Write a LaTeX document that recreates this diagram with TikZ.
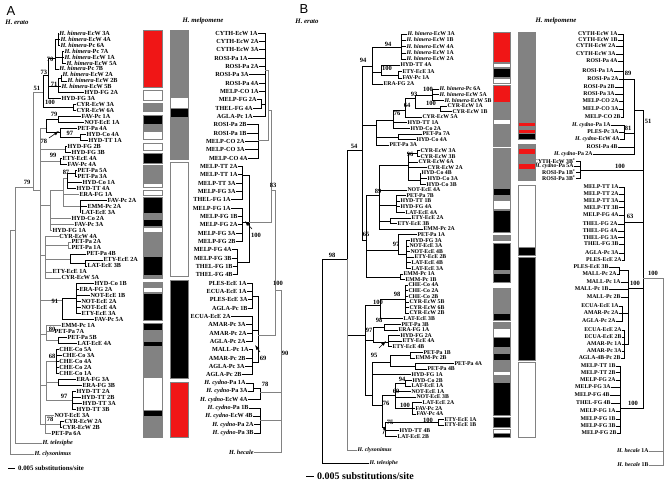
\documentclass[tikz,border=0pt]{standalone}
\usepackage{fontspec}
\setmainfont{Liberation Serif}
\newfontfamily\panelfont{Liberation Sans}
\usetikzlibrary{arrows.meta}
\definecolor{barred}{RGB}{240,22,22}
\definecolor{bargray}{RGB}{130,130,130}
\newcommand{\spn}[1]{\textit{#1}}
\tikzset{
  br/.style={line width=0.5pt},
  gbr/.style={br,draw=bargray},
  lfa/.style={anchor=west,inner sep=0.3pt,font=\fontsize{6.2}{6.5}\selectfont\bfseries},
  lfb/.style={anchor=west,inner sep=0.3pt,font=\fontsize{5.8}{6}\selectfont\bfseries},
  rfa/.style={lfa,anchor=east},
  rfb/.style={lfb,anchor=east},
  bs/.style={inner sep=0pt,font=\fontsize{6.5}{7}\selectfont\bfseries},
  hd/.style={inner sep=0pt,font=\fontsize{6.8}{7}\selectfont\bfseries\itshape},
  seg/.style={draw=bargray,line width=0.4pt},
  wedge/.style={-{Latex[length=5pt,width=3.5pt]},line width=0.6pt},
  paneltag/.style={inner sep=0pt,font=\panelfont\fontsize{13}{13}\selectfont},
}
\begin{document}
\begin{tikzpicture}[x=1pt,y=-1pt]
  \fill[white] (0,0) rectangle (665,482);
  \useasboundingbox (0,0) rectangle (665,482);

  \node[paneltag] (tagA) at (11,11) {A};
  \node[paneltag] (tagB) at (304,9) {B};
  \node[hd] (hAer) at (17,22) {H. erato};
  \node[hd] (hAme) at (203,21) {H. melpomene};
  \node[hd] (hBer) at (307,21) {H. erato};
  \node[hd] (hBme) at (556,21) {H. melpomene};

  % panel A, H. erato
  \foreach \x/\y/\t [count=\i] in {
    59/33/{\spn{H. himera}-EcW 3A}, 60/39/{\spn{H. himera}-EcW 4A}, 60/44.9/{\spn{H. himera}-Pc 6A},
    64/50.9/{\spn{H. himera}-Pc 7A}, 64/56.9/{\spn{H. himera}-EcW 1A}, 66/62.9/{\spn{H. himera}-EcW 5A},
    59/68.8/{\spn{H. himera}-Pc 7B}, 62/74.8/{\spn{H. himera}-EcW 2A}, 67/80.8/{\spn{H. himera}-EcW 2B},
    61/86.7/{\spn{H. himera}-EcW 5B}, 84/92.7/HYD-FG 2A, 61/98.7/HYD-FG 3A,
    76/104.6/CYR-EcW 3A, 76/110.6/CYR-EcW 6A, 81/116.6/FAV-Pc 1A, 84/122.6/NOT-EcE 1A,
    77/128.5/PET-Pa 4A, 86/134.5/HYD-Co 4A, 88/140.5/HYD-TT 1A, 67/146.4/HYD-FG 2B,
    71/152.4/HYD-FG 3B, 62/158.4/ETY-EcE 4A, 67/164.3/FAV-Pc 4A, 77/170.3/PET-Pa 5A,
    77/176.3/PET-Pa 3A, 82/182.3/HYD-Co 1A, 76/188.2/HYD-TT 4A, 79/194.2/ERA-FG 1A,
    107/200.2/FAV-Pc 2A, 87/206.1/EMM-Pc 2A, 81/212.1/LAT-EcE 3A, 71/218.1/HYD-Co 2A,
    74/224/FAV-Pc 3A, 52/230/HYD-FG 1A, 59/236/CYR-EcW 4A, 71/241.9/PET-Pa 2A,
    71/247.9/PET-Pa 1A, 86/253.9/PET-Pa 4B, 103/259.9/ETY-EcE 2A, 87/265.8/LAT-EcE 3B,
    52/271.8/ETY-EcE 1A, 61/277.8/CYR-EcW 5A, 94/283.7/HYD-Co 1B, 79/289.7/ERA-FG 2A,
    90/295.7/NOT-EcE 1B, 81/301.6/NOT-EcE 2A, 81/307.6/NOT-EcE 4A, 81/313.6/ETY-EcE 3A,
    94/319.5/FAV-Pc 5A, 61/325.5/EMM-Pc 1A, 54/331.5/PET-Pa 7A, 67/337.4/PET-Pa 5B,
    77/343.4/LAT-EcE 4A, 59/349.4/CHE-Co 5A, 62/355.4/CHE-Co 3A, 59/361.3/CHE-Co 4A,
    59/367.3/CHE-Co 2A, 59/373.3/CHE-Co 1A, 76/379.2/ERA-FG 3A, 82/385.2/ERA-FG 3B,
    76/391.2/HYD-TT 2A, 81/397.1/HYD-TT 2B, 82/403.1/HYD-TT 3A, 76/409.1/HYD-TT 3B,
    54/415/NOT-EcE 3A, 64/421/CYR-EcW 2A, 62/427/CYR-EcW 2B, 51/433/PET-Pa 6A}
    \node[lfa] (ae\i) at (\x,\y) {\t};
  \node[lfa] (ate) at (42,443) {\spn{H. telesiphe}};
  \node[lfa] (acl) at (34,454) {\spn{H. clysonimus}};

  \coordinate (aR) at (10,400);
  \coordinate (aN1) at (15,230);
  \coordinate (aIn) at (33,187);
  \coordinate (aTop) at (43,92);
  \coordinate (aHimC) at (48,75);
  \coordinate (aH70) at (55,58);
  \coordinate (aH1) at (58,39);
  \coordinate (aH2) at (62,57);
  \coordinate (aH71) at (58,86);
  \coordinate (aH3) at (61,78);
  \coordinate (aCYR) at (73,107);
  \coordinate (aBig) at (40,190);
  \coordinate (aB1) at (46,128);
  \coordinate (aB1a) at (58,119);
  \coordinate (aB1b) at (60,132);
  \coordinate (aB1c) at (80,137);
  \coordinate (aB2) at (65,149);
  \coordinate (aB3) at (60,161);
  \coordinate (aB4) at (50,205);
  \coordinate (aB4x) at (63,190);
  \coordinate (aB4a) at (67,178);
  \coordinate (aB4b) at (75,173);
  \coordinate (aB4c) at (80,206);
  \coordinate (aB5) at (45,255);
  \coordinate (aB5a) at (68,245);
  \coordinate (aB5b) at (70,259);
  \coordinate (aB5c) at (85,263);
  \coordinate (aB6) at (62,300);
  \coordinate (aB6a) at (76,298);
  \coordinate (aB7) at (46,334);
  \coordinate (aB7a) at (58,340);
  \coordinate (aB8) at (46,385);
  \coordinate (aB8a) at (56,361);
  \coordinate (aB8b) at (58,382);
  \coordinate (aB8c) at (72,400);
  \coordinate (aB9) at (45,424);
  \coordinate (aB9a) at (60,424);

  \foreach \c in {aN1,acl.west} \draw[gbr] (aR) |- (\c);
  \foreach \c in {ate.west,aIn} \draw[gbr] (aN1) |- (\c);
  \foreach \c in {aTop,aBig} \draw[gbr] (aIn) |- (\c);
  \foreach \c in {aHimC,aCYR} \draw[br] (aTop) |- (\c);
  \foreach \c in {aH70,aH71,ae12.west} \draw[br] (aHimC) |- (\c);
  \foreach \c in {aH1,aH2,ae7.west} \draw[br] (aH70) |- (\c);
  \foreach \n in {1,2,3} \draw[br] (aH1) |- (ae\n.west);
  \foreach \n in {4,5,6} \draw[br] (aH2) |- (ae\n.west);
  \foreach \c in {aH3,ae10.west,ae11.west} \draw[br] (aH71) |- (\c);
  \foreach \n in {8,9} \draw[br] (aH3) |- (ae\n.west);
  \foreach \n in {13,14} \draw[br] (aCYR) |- (ae\n.west);
  \foreach \c in {aB1,aB2,aB3,aB4,aB5,aB6,aB7,aB8,aB9} \draw[gbr] (aBig) |- (\c);
  \foreach \c in {aB1a,aB1b} \draw[br] (aB1) |- (\c);
  \foreach \n in {15,16} \draw[br] (aB1a) |- (ae\n.west);
  \foreach \c in {ae17.west,aB1c} \draw[br] (aB1b) |- (\c);
  \foreach \n in {18,19} \draw[br] (aB1c) |- (ae\n.west);
  \foreach \n in {20,21} \draw[br] (aB2) |- (ae\n.west);
  \foreach \n in {22,23} \draw[br] (aB3) |- (ae\n.west);
  \foreach \c in {aB4x,ae32.west,ae33.west,ae34.west} \draw[gbr] (aB4) |- (\c);
  \foreach \c in {aB4a,ae28.west,aB4c} \draw[gbr] (aB4x) |- (\c);
  \foreach \c in {aB4b,ae26.west,ae27.west} \draw[br] (aB4a) |- (\c);
  \foreach \n in {24,25} \draw[br] (aB4b) |- (ae\n.west);
  \foreach \n in {29,30,31} \draw[br] (aB4c) |- (ae\n.west);
  \foreach \c in {ae35.west,aB5a,aB5b,ae41.west,ae42.west} \draw[gbr] (aB5) |- (\c);
  \foreach \n in {36,37} \draw[gbr] (aB5a) |- (ae\n.west);
  \foreach \c in {ae38.west,aB5c} \draw[br] (aB5b) |- (\c);
  \foreach \n in {39,40} \draw[br] (aB5c) |- (ae\n.west);
  \foreach \c in {aB6a,ae49.west} \draw[br] (aB6) |- (\c);
  \foreach \n in {43,...,48} \draw[br] (aB6a) |- (ae\n.west);
  \foreach \c in {ae50.west,ae51.west,aB7a} \draw[gbr] (aB7) |- (\c);
  \foreach \n in {52,53} \draw[br] (aB7a) |- (ae\n.west);
  \foreach \c in {aB8a,aB8b,aB8c} \draw[gbr] (aB8) |- (\c);
  \foreach \n in {54,...,58} \draw[br] (aB8a) |- (ae\n.west);
  \foreach \n in {59,60} \draw[br] (aB8b) |- (ae\n.west);
  \foreach \n in {61,...,64} \draw[br] (aB8c) |- (ae\n.west);
  \foreach \c in {ae65.west,aB9a,ae68.west} \draw[gbr] (aB9) |- (\c);
  \foreach \n in {66,67} \draw[br] (aB9a) |- (ae\n.west);

  \foreach \x/\y/\t [count=\i] in {27/182/79, 37/88/51, 44/72/73, 50/59/70, 54/84/71, 50/102/100,
    54/114/79, 70/133/97, 44/141/78, 53/155/99, 66/172/87, 55/301/91, 52/329/80, 52/356/68,
    64/396/97, 50/419/78}
    \node[bs] (bsa\i) at (\x,\y) {\t};
  \draw[wedge] (49,138) -- (59,131);

  % panel A, H. melpomene
  \foreach \x/\y/\t [count=\i] in {
    258/33/CYTH-EcW 1A, 259/41.3/CYTH-EcW 2A, 259/49.7/CYTH-EcW 3A, 248/58/ROSI-Pa 1A,
    259/66.3/ROSI-Pa 2A, 249/74.7/ROSI-Pa 3A, 259/83/ROSI-Pa 4A, 259/91.3/MELP-CO 1A,
    257/99.7/MELP-FG 2A, 253/108/THEL-FG 4A, 253/116.3/AGLA-Pc 1A, 247/124.7/ROSI-Pa 2B,
    247/133/ROSI-Pa 1B, 245/141.3/MELP-CO 2A, 245/149.7/MELP-CO 3A, 248/158/MELP-CO 4A,
    238/166.3/MELP-TT 2A, 238/174.7/MELP-TT 1A, 236/183/MELP-TT 3A, 236/191.3/MELP-FG 3A,
    231/199.7/THEL-FG 1A, 231/208/MELP-FG 1A, 238/216.3/MELP-FG 1B, 238/224.7/MELP-FG 2A,
    236/233/MELP-FG 3A, 236/241.3/MELP-FG 2B, 232/249.7/MELP-FG 4A, 232/258/MELP-FG 3B,
    233/266.3/THEL-FG 1B, 233/274.7/THEL-FG 4B, 247/283/PLES-EcE 1A, 247/291.3/ECUA-EcE 1A,
    248/299.7/PLES-EcE 3A, 248/308/AGLA-Pc 1B, 231/316.3/ECUA-EcE 2A, 246/324.7/AMAR-Pc 3A,
    247/333/AMAR-Pc 2A, 246/341.3/AGLA-Pc 2A, 249/349.7/MALL-Pc 1A, 246/358/AMAR-Pc 2B,
    245/366.3/AGLA-Pc 3A, 242/374.7/AGLA-Pc 2B, 246/383/{\spn{H. cydno}-Pa 1A},
    248/391.3/{\spn{H. cydno}-Pa 3A}, 248/399.7/{\spn{H. cydno}-EcW 4A}, 249/408/{\spn{H. cydno}-Pa 1B},
    253/416.3/{\spn{H. cydno}-EcW 4B}, 254/424.7/{\spn{H. cydno}-Pa 2A}, 254/433/{\spn{H. cydno}-Pa 3B}}
    \node[rfa] (am\i) at (\x,\y) {\t};
  \node[rfa] (amhec) at (254,452) {\spn{H. hecale}};

  \coordinate (aMa) at (265,70);
  \coordinate (aMb) at (261,104);
  \coordinate (aMc) at (258,140);
  \coordinate (aMac) at (268,110);
  \coordinate (aMd1) at (242,175);
  \coordinate (aMd2) at (242,222);
  \coordinate (aMd3) at (237,262);
  \coordinate (aMd) at (249,222);
  \coordinate (aMad) at (271,190);
  \coordinate (aMe1) at (252,296);
  \coordinate (aMe2) at (252,330);
  \coordinate (aMe3) at (252,362);
  \coordinate (aMe) at (258,335);
  \coordinate (aMf) at (275,290);
  \coordinate (aMg1) at (253,388);
  \coordinate (aMg) at (260,392);
  \coordinate (aMh) at (260,420);
  \coordinate (aMr) at (281,357);

  \foreach \n in {1,...,8,11} \draw[br] (aMa) |- (am\n.east);
  \draw[br] (aMa) |- (aMb);
  \foreach \n in {9,10} \draw[br] (aMb) |- (am\n.east);
  \foreach \n in {12,...,16} \draw[br] (aMc) |- (am\n.east);
  \foreach \c in {aMa,aMc} \draw[gbr] (aMac) |- (\c);
  \foreach \n in {17,...,21} \draw[br] (aMd1) |- (am\n.east);
  \foreach \n in {22,...,26} \draw[br] (aMd2) |- (am\n.east);
  \foreach \n in {27,...,30} \draw[br] (aMd3) |- (am\n.east);
  \foreach \c in {aMd1,aMd2,aMd3} \draw[br] (aMd) |- (\c);
  \foreach \c in {aMac,aMd} \draw[gbr] (aMad) |- (\c);
  \foreach \n in {31,...,34} \draw[br] (aMe1) |- (am\n.east);
  \foreach \n in {35,...,38} \draw[br] (aMe2) |- (am\n.east);
  \foreach \n in {39,...,42} \draw[br] (aMe3) |- (am\n.east);
  \foreach \c in {aMe1,aMe2,aMe3} \draw[br] (aMe) |- (\c);
  \foreach \c in {aMad,aMe} \draw[gbr] (aMf) |- (\c);
  \foreach \n in {43,44} \draw[br] (aMg1) |- (am\n.east);
  \foreach \c in {aMg1,am45.east} \draw[br] (aMg) |- (\c);
  \foreach \n in {46,...,49} \draw[br] (aMh) |- (am\n.east);
  \foreach \c in {aMf,aMg,aMh,amhec.east} \draw[gbr] (aMr) |- (\c);

  \foreach \x/\y/\t [count=\i] in {273/185/83, 256/235/100, 278/283/100, 263/358/69, 285/353/90, 265/384/78}
    \node[bs] (bsm\i) at (\x,\y) {\t};
  \draw[wedge] (252,229) -- (245,221);
  \draw[wedge] (260,352) -- (255,345);

  % panel A, bars
  \foreach \c/\a/\b in {barred/30/87, white/90/100, bargray/103/111, black/115/124, bargray/125/131,
    white/131/139, white/143/150, black/153/163, bargray/165/183, white/183/187, white/190/195,
    black/197/213, bargray/214/219, black/219/226, white/227/232, bargray/233/256, black/256/275,
    bargray/275/278, bargray/282/287, white/287/292, black/293/320, black/323/330, bargray/330/340,
    black/341/346, bargray/347/377, white/377/410, black/410/416, bargray/416/437}
    \filldraw[seg,fill=\c] (143,\a) rectangle (162,\b);
  \foreach \c/\a/\b in {bargray/30/97, white/97/108, black/108/117, bargray/117/159, white/162/276,
    black/280/378, barred/382/437}
    \filldraw[seg,fill=\c] (170,\a) rectangle (188,\b);

  \draw[line width=0.8pt] (8,468) -- (15,468);
  \node[anchor=west,inner sep=0pt,font=\fontsize{6.8}{7}\selectfont\bfseries] (sclA) at (18,468) {0.005 substitutions/site};

  % panel B, H. erato
  \foreach \x/\y/\t [count=\i] in {
    407/34/{\spn{H. himera}-EcW 3A}, 406/40/{\spn{H. himera}-EcW 1B}, 406/46.5/{\spn{H. himera}-EcW 4A},
    406/53/{\spn{H. himera}-EcW 1A}, 406/59/{\spn{H. himera}-EcW 2A}, 400/65/HYD-TT 4A,
    402/71.5/ETY-EcE 3A, 402/78/FAV-Pc 1A, 383/84/ERA-FG 2A,
    439/89/{\spn{H. himera}-Pc 6A}, 439/94.6/{\spn{H. himera}-EcW 5A}, 444/100.2/{\spn{H. himera}-EcW 5B},
    447/105.8/CYR-EcW 1A, 452/111.4/CYR-EcW 1B, 422/117/CYR-EcW 5A, 407/122.6/HYD-TT 1A,
    410/128.2/HYD-Co 2A, 422/133.8/PET-Pa 7A, 416/139.4/HYD-Co 4A, 389/145/PET-Pa 3A,
    420/150.6/CYR-EcW 3A, 420/156.2/CYR-EcW 3B, 418/161.8/CYR-EcW 6A, 427/167.4/CYR-EcW 2A,
    421/173/HYD-Co 4B, 427/178.6/HYD-Co 3A, 426/184.2/HYD-Co 3B, 407/189.8/NOT-EcE 4A,
    406/195.4/PET-Pa 7B, 400/201/HYD-TT 1B, 400/206.6/HYD-FG 4A, 405/212.2/LAT-EcE 4A,
    411/217.8/ETY-EcE 2A, 397/223.4/ETY-EcE 3B, 423/229/EMM-Pc 2A, 417/234.6/PET-Pa 1A,
    410/240.2/HYD-FG 3A, 409/245.8/NOT-EcE 3A, 410/251.4/NOT-EcE 4B, 414/257/ETY-EcE 2B,
    411/262.6/LAT-EcE 4B, 411/268.2/LAT-EcE 3A, 403/273.8/EMM-Pc 1A, 405/279.4/EMM-Pc 1B,
    408/285/CHE-Co 4A, 408/290.6/CHE-Co 2A, 408/296.2/CHE-Co 2B, 409/301.8/CYR-EcW 5B,
    409/307.4/CYR-EcW 6B, 409/313/CYR-EcW 2B, 403/318.6/LAT-EcE 3B, 401/324.2/PET-Pa 3B,
    398/329.8/ERA-FG 1A, 400/335.4/HYD-FG 2A, 402/341/ETY-EcE 4A, 392/346.6/ETY-EcE 4B,
    423/352.2/PET-Pa 1B, 415/357.8/EMM-Pc 2B, 454/363.4/PET-Pa 4A, 427/369/PET-Pa 4B,
    411/374.6/HYD-FG 1A, 412/380.2/HYD-Co 2B, 411/385.8/LAT-EcE 1A, 411/391.4/NOT-EcE 1A,
    416/397/NOT-EcE 3B, 422/402.6/LAT-EcE 2A, 415/408.2/FAV-Pc 2A, 416/413.8/FAV-Pc 4A,
    444/419.4/ETY-EcE 1A, 444/425/ETY-EcE 1B, 399/430.6/HYD-TT 4B, 397/436.2/LAT-EcE 2B}
    \node[lfb] (be\i) at (\x,\y) {\t};
  \node[lfb] (bcl) at (357,450) {\spn{H. clysonimus}};
  \node[lfb] (bte) at (369,463) {\spn{H. telesiphe}};

  \coordinate (bR) at (322,360);
  \coordinate (bN98) at (347,259);
  \coordinate (bN54) at (362,150);
  \coordinate (bTop) at (372,66);
  \coordinate (bH94) at (401,47);
  \coordinate (bT100) at (381,72);
  \coordinate (bT2) at (398,75);
  \coordinate (bMid) at (376,125);
  \coordinate (bM76) at (393,120);
  \coordinate (bM64) at (405,110);
  \coordinate (bM93) at (415,98);
  \coordinate (bM100a) at (432,95);
  \coordinate (bM100b) at (440,108);
  \coordinate (bM2) at (398,137);
  \coordinate (bN65) at (366,240);
  \coordinate (bN89) at (379,195);
  \coordinate (bM96) at (408,165);
  \coordinate (bM96a) at (417,153);
  \coordinate (bM96b) at (420,180);
  \coordinate (bM3) at (396,205);
  \coordinate (bM4) at (390,221);
  \coordinate (bM97) at (398,250);
  \coordinate (bM97a) at (406,254);
  \coordinate (bEMM) at (400,277);
  \coordinate (bLow) at (365,335);
  \coordinate (bC100) at (380,305);
  \coordinate (bC98) at (405,299);
  \coordinate (bC97) at (373,340);
  \coordinate (bC98b) at (384,327);
  \coordinate (bC95) at (388,342);
  \coordinate (bC2) at (372,395);
  \coordinate (bC3) at (390,362);
  \coordinate (bC3a) at (410,355);
  \coordinate (bC3b) at (415,366);
  \coordinate (bC76) at (382,405);
  \coordinate (bC69) at (395,395);
  \coordinate (bC94) at (405,383);
  \coordinate (bC100c) at (412,408);
  \coordinate (bC75) at (385,427);
  \coordinate (bC100d) at (438,422);

  \foreach \c in {bN98,bte.west} \draw[br] (bR) |- (\c);
  \foreach \c in {bN54,bLow} \draw[br] (bN98) |- (\c);
  \draw[gbr] (bN98) |- (bcl.west);
  \foreach \c in {bTop,bMid,bN65} \draw[br] (bN54) |- (\c);
  \foreach \c in {bH94,bT100,be9.west} \draw[br] (bTop) |- (\c);
  \foreach \n in {1,...,5} \draw[br] (bH94) |- (be\n.west);
  \foreach \c in {be6.west,bT2} \draw[br] (bT100) |- (\c);
  \foreach \n in {7,8} \draw[br] (bT2) |- (be\n.west);
  \foreach \c in {bM76,bM2,be20.west} \draw[br] (bMid) |- (\c);
  \foreach \c in {bM64,be16.west,be17.west} \draw[br] (bM76) |- (\c);
  \foreach \c in {bM93,be15.west} \draw[br] (bM64) |- (\c);
  \foreach \c in {bM100a,bM100b} \draw[br] (bM93) |- (\c);
  \foreach \n in {10,11,12} \draw[br] (bM100a) |- (be\n.west);
  \foreach \n in {13,14} \draw[br] (bM100b) |- (be\n.west);
  \foreach \n in {18,19} \draw[br] (bM2) |- (be\n.west);
  \foreach \c in {bN89,bM97,bEMM} \draw[br] (bN65) |- (\c);
  \foreach \c in {bM96,be28.west,bM3,bM4,be35.west} \draw[br] (bN89) |- (\c);
  \foreach \c in {bM96a,be23.west,be24.west,bM96b} \draw[br] (bM96) |- (\c);
  \foreach \n in {21,22} \draw[br] (bM96a) |- (be\n.west);
  \foreach \n in {25,26,27} \draw[br] (bM96b) |- (be\n.west);
  \foreach \n in {29,...,32} \draw[br] (bM3) |- (be\n.west);
  \foreach \n in {33,34} \draw[br] (bM4) |- (be\n.west);
  \foreach \c in {be36.west,bM97a} \draw[br] (bM97) |- (\c);
  \foreach \n in {37,...,42} \draw[br] (bM97a) |- (be\n.west);
  \foreach \n in {43,44} \draw[br] (bEMM) |- (be\n.west);
  \foreach \c in {bC100,bC97,bC2} \draw[br] (bLow) |- (\c);
  \foreach \c in {bC98,be51.west} \draw[br] (bC100) |- (\c);
  \foreach \n in {45,...,50} \draw[br] (bC98) |- (be\n.west);
  \foreach \c in {bC98b,bC95} \draw[br] (bC97) |- (\c);
  \foreach \n in {52,53} \draw[br] (bC98b) |- (be\n.west);
  \foreach \n in {54,55,56} \draw[br] (bC95) |- (be\n.west);
  \foreach \c in {bC3,be61.west,bC76} \draw[br] (bC2) |- (\c);
  \foreach \c in {bC3a,bC3b} \draw[br] (bC3) |- (\c);
  \foreach \n in {57,58} \draw[br] (bC3a) |- (be\n.west);
  \foreach \n in {59,60} \draw[br] (bC3b) |- (be\n.west);
  \foreach \c in {bC69,bC75} \draw[br] (bC76) |- (\c);
  \foreach \c in {bC94,be64.west,be65.west,bC100c} \draw[br] (bC69) |- (\c);
  \foreach \n in {62,63} \draw[br] (bC94) |- (be\n.west);
  \foreach \n in {66,67,68} \draw[br] (bC100c) |- (be\n.west);
  \foreach \c in {bC100d,be71.west,be72.west} \draw[br] (bC75) |- (\c);
  \foreach \n in {69,70} \draw[br] (bC100d) |- (be\n.west);

  \foreach \x/\y/\t [count=\i] in {363/60/94, 388/44/94, 387/68/100, 428/89/100, 431/103/100,
    414/94/93, 407/105/64, 397/113/76, 354/146/54, 410/154/96, 378/191/89, 366/234/65,
    396/244/97, 332/255/98, 397/294/98, 378/302/100, 379/320/98, 369/330/97, 374/355/95,
    402/379/94, 396/391/69, 386/403/76, 405/405/100, 428/420.5/100, 390/422/75}
    \node[bs] (bsb\i) at (\x,\y) {\t};
  \draw[wedge] (379,348) -- (386,341);
  \draw[wedge] (383,434) -- (386,425);

  % panel B, H. melpomene
  \foreach \x/\y/\t [count=\i] in {
    618/34/CYTH-EcW 1A, 618/40/CYTH-EcW 1B, 616/46/CYTH-EcW 2A, 616/54/CYTH-EcW 3A,
    618/61/ROSI-Pa 4A, 614/71/ROSI-Pa 1A, 619/79/ROSI-Pa 2A, 615/87/ROSI-Pa 2B,
    615/94/ROSI-Pa 3A, 619/101/MELP-CO 2A, 619/109/MELP-CO 3A, 621/117/MELP-CO 2B,
    611/125/{\spn{H. cydno}-Pa 1A}, 619/132/PLES-Pc 3A, 620/139/{\spn{H. cydno}-EcW 4A},
    618/147/ROSI-Pa 4B, 593/154/{\spn{H. cydno}-Pa 2A}, 576/161/{CYTH-EcW 3B\textsuperscript{*}},
    574/166.5/{\spn{H. cydno}-Pa 5A}, 576/172/{ROSI-Pa 1B\textsuperscript{*}}, 576/178/{ROSI-Pa 3B\textsuperscript{*}},
    619/187/MELP-TT 1A, 619/194/MELP-TT 2A, 619/201/MELP-TT 3A, 619/207.5/MELP-TT 3B,
    619/215/MELP-FG 4A, 618/224/THEL-FG 2A, 618/231/THEL-FG 4A, 618/237.5/THEL-FG 3A,
    619/244/THEL-FG 3B, 619/253/AGLA-Pc 3A, 622/260/PLES-EcE 2A, 609/267/PLES-EcE 3B,
    617/274/MALL-Pc 2A, 621/282/MALL-Pc 1A, 609/289/MALL-Pc 1B, 621/297/MALL-Pc 2B,
    619/306/ECUA-EcE 1A, 619/313/AMAR-Pc 2A, 616/321/AGLA-Pc 2A, 622/330/ECUA-EcE 2A,
    622/337/ECUA-EcE 2B, 622/344/AMAR-Pc 1A, 622/351/AMAR-Pc 3A, 621/358/AGLA-4B-Pc 2B,
    616/366/MELP-TT 1B, 616/372.5/MELP-TT 2B, 616/380/MELP-FG 2A, 611/387/MELP-FG 3A,
    610/395/MELP-FG 4B, 611/403/THEL-FG 4B, 616/411/MELP-FG 1A, 616/419/MELP-FG 1B,
    616/426/MELP-FG 3B, 617/433/MELP-FG 2B}
    \node[rfb] (bm\i) at (\x,\y) {\t};
  \node[rfb] (bh1) at (649,451) {\spn{H. hecale} 1A};
  \node[rfb] (bh2) at (649,465) {\spn{H. hecale} 1B};

  \coordinate (bM89) at (623,79);
  \coordinate (bM81) at (624,133);
  \coordinate (bMx) at (634,110);
  \coordinate (bM100s) at (580,170);
  \coordinate (bM63) at (624,222);
  \coordinate (bMe1) at (619,270);
  \coordinate (bMe2) at (622,313);
  \coordinate (bMe3) at (624,344);
  \coordinate (bM100a) at (628,288);
  \coordinate (bM100b) at (620,408);
  \coordinate (bMA) at (643,278);
  \coordinate (bMroot) at (663,370);

  \foreach \n in {1,...,12} \draw[br] (bM89) |- (bm\n.east);
  \foreach \n in {13,14,15} \draw[br] (bM81) |- (bm\n.east);
  \foreach \c in {bM89,bM81,bm16.east,bm17.east} \draw[br] (bMx) |- (\c);
  \foreach \n in {18,...,21} \draw[br] (bM100s) |- (bm\n.east);
  \foreach \n in {22,...,32} \draw[br] (bM63) |- (bm\n.east);
  \foreach \n in {33,34} \draw[br] (bMe1) |- (bm\n.east);
  \foreach \n in {38,39,40} \draw[br] (bMe2) |- (bm\n.east);
  \foreach \n in {41,...,45} \draw[br] (bMe3) |- (bm\n.east);
  \foreach \c in {bMe1,bm35.east,bm36.east,bm37.east,bMe2,bMe3} \draw[br] (bM100a) |- (\c);
  \foreach \n in {46,...,55} \draw[br] (bM100b) |- (bm\n.east);
  \foreach \c in {bMx,bM100s,bM63,bM100a,bM100b} \draw[br] (bMA) |- (\c);
  \foreach \c in {bMA,bh1.east,bh2.east} \draw[gbr] (bMroot) |- (\c);

  \foreach \x/\y/\t [count=\i] in {628/73/89, 628/128/81, 648/121/51, 620/166/100, 630/216/63,
    653/273/100, 635/283/100, 633/403/100}
    \node[bs] (bsn\i) at (\x,\y) {\t};

  % panel B, bars
  \foreach \c/\a/\b in {barred/32/62, white/63/67, black/68/77, white/78/83, barred/85/102,
    bargray/102/118, white/119/124, bargray/125/146, bargray/148/188, black/188/195, bargray/195/199,
    white/200/209, black/210/232, bargray/235/240, black/243/270, bargray/270/273, black/273/282,
    bargray/288/313, black/313/320, bargray/322/328, white/328/337, black/337/347, bargray/347/353,
    black/353/360, bargray/361/371, white/371/375, bargray/375/382, black/382/415, black/417/427,
    white/429/433, black/433/437}
    \filldraw[seg,fill=\c] (493,\a) rectangle (510,\b);
  \foreach \c/\a/\b in {bargray/32/122, barred/122/126, bargray/126/129, barred/129/133, black/133/139,
    bargray/144/148, barred/148/154, bargray/154/157, bargray/158/163, barred/163/169, bargray/169/180,
    white/185/247, black/247/255, black/257/360, white/362/437}
    \filldraw[seg,fill=\c] (518,\a) rectangle (535,\b);

  \draw[line width=0.9pt] (306,476) -- (314,476);
  \node[anchor=west,inner sep=0pt,font=\fontsize{10}{10}\selectfont\bfseries] (sclB) at (317,476) {0.005 substitutions/site};
\end{tikzpicture}
\end{document}
